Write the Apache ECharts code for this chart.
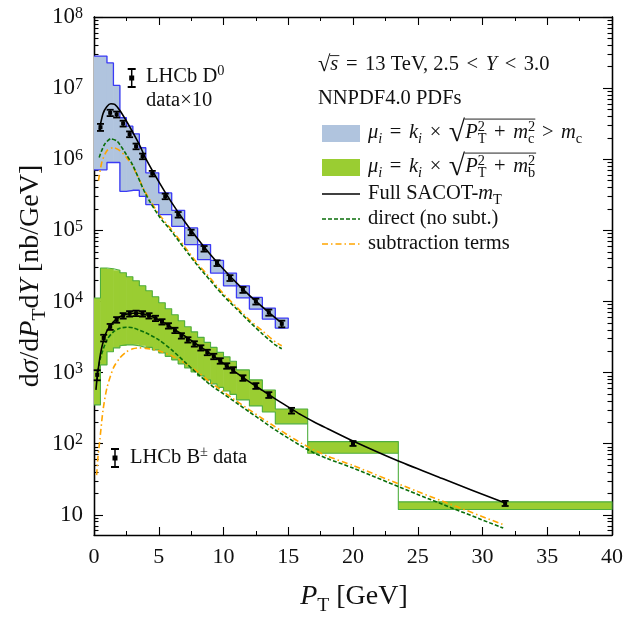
<!DOCTYPE html>
<html><head><meta charset="utf-8">
<script src="https://cdn.jsdelivr.net/npm/echarts@6/dist/echarts.min.js"></script>
<style>html,body{margin:0;padding:0;background:#fff}#c{width:623px;height:623px}</style>
</head><body><div id="c"></div>
<script>
// ---------------- DATA ----------------
// LHCb D0 data (x10)
const d0Pt  = [0.5,1.25,1.75,2.25,2.75,3.25,3.75,4.5,5.5,6.5,7.5,8.5,9.5,10.5,11.5,12.5,13.5,14.5];
const d0Val = [2.82e6,4.5e6,4.27e6,3.18e6,2.25e6,1.52e6,1.10e6,6.29e5,3.01e5,1.66e5,9.37e4,5.52e4,3.47e4,2.14e4,1.46e4,1.0e4,7.0e3,4.85e3];
const d0Err = [3.2e5,4.6e5,4.1e5,3.0e5,2.1e5,1.4e5,1.0e5,5.6e4,2.7e4,1.5e4,8.4e3,5.0e3,3.2e3,2.0e3,1.4e3,9.5e2,7.0e2,5.2e2];
// D0 scale band (step bins)
const d0Edges  = [0,1,1.5,2,2.5,3,3.5,4,5,6,7,8,9,10,11,12,13,14,15];
const d0BandHi = [2.82e7,2.26e7,1.09e7,3.83e6,2.92e6,2.28e6,1.45e6,6.43e5,3.36e5,1.91e5,1.08e5,6.30e4,3.78e4,2.51e4,1.66e4,1.14e4,8.07e3,5.83e3];
const d0BandLo = [7.1e5,9.0e5,9.0e5,3.54e5,3.54e5,3.66e5,3.01e5,2.30e5,1.66e5,1.14e5,6.30e4,3.87e4,2.51e4,1.66e4,1.12e4,7.82e3,5.65e3,4.22e3];
// D0 theory curves
const d0FullPt  = [0.4,0.7,1.0,1.3,1.6,2.0,2.5,3,3.5,4,5,6,7,8,9,10,11,12,13,14,14.5];
const d0FullVal = [2.54e6,4.4e6,5.52e6,6.03e6,5.89e6,4.85e6,3.45e6,2.38e6,1.61e6,1.02e6,4.85e5,2.45e5,1.33e5,7.64e4,4.55e4,2.84e4,1.83e4,1.22e4,8.41e3,5.89e3,5.01e3];
const d0DirPt   = [0.4,0.8,1.3,1.8,2.5,3,4,5,6,7,8,9,10,11,12,13,14,14.5];
const d0DirVal  = [1.06e6,1.6e6,1.94e6,1.78e6,1.16e6,8.2e5,3.2e5,1.6e5,9.6e4,5.5e4,3.2e4,1.95e4,1.2e4,7.9e3,5.2e3,3.5e3,2.45e3,2.16e3];
const d0SubPt   = [0.35,0.6,1.0,1.5,2.0,2.5,3,4,5,6,7,8,9,10,11,12,13,14,14.5];
const d0SubVal  = [5.0e5,9.0e5,1.32e6,1.46e6,1.32e6,1.06e6,7.9e5,3.35e5,1.7e5,1.02e5,5.9e4,3.4e4,2.1e4,1.28e4,8.4e3,5.5e3,3.86e3,2.7e3,2.38e3];

// LHCb B+- data
const bPt  = [0.25,0.75,1.25,1.75,2.25,2.75,3.25,3.75,4.25,4.75,5.25,5.75,6.25,6.75,7.25,7.75,8.25,8.75,9.25,9.75,10.25,10.75,11.5,12.5,13.5,15.25,20,31.75];
const bVal = [929,3069,4406,5522,6295,6714,6823,6714,6295,5796,5180,4550,3928,3289,2890,2536,2228,1924,1690,1462,1242,1091,841,650,485,292,101,14.5];
const bErr = [150,330,420,500,560,590,600,590,550,500,450,400,340,290,250,220,190,170,150,130,110,100,75,60,45,27,8,1.2];
// B scale band
const bEdges  = [0,0.5,1,1.5,2,2.5,3,3.5,4,4.5,5,5.5,6,6.5,7,7.5,8,8.5,9,9.5,10,10.5,11,12,13,14,16.5,23.5,40];
const bBandHi = [11170,29510,28900,27500,25350,22280,19580,16650,14160,11650,9590,7890,6500,5350,4400,3740,3130,2660,2260,1925,1665,1440,1090,789,570,308,107,15.2];
const bBandLo = [351,1283,1958,2228,2378,2455,2455,2378,2263,2088,1895,1690,1509,1326,1164,1022,899,789,693,619,552,493,413,340,279,190,73.3,11.9];
// B theory curves
const bFullPt  = [0.15,0.25,0.5,0.75,1,1.5,2,2.5,3,3.5,4,4.5,5,5.5,6,7,8,9,10,11,12,13,14,15.25,16,17,18,20,23.5,27,31.75];
const bFullVal = [570,869,1833,2888,3868,5180,6095,6607,6823,6823,6497,6095,5522,4929,4263,3289,2456,1833,1348,991,740,561,426,308,254,202,164,109,57,31.8,14.6];
const bDirPt   = [0.3,0.5,1,1.5,2,2.5,3,4,5,6,7,8,9,10,11,12,13,14,15,16,17,18,20,25,31.6];
const bDirVal  = [1023,1611,2890,3742,4197,4335,4266,3622,2890,2089,1416,959,671,501,374,279,209,156,120,92.9,74.0,61.9,45.5,19.3,6.5];
const bSubPt   = [0.2,0.3,0.45,0.7,1,1.5,2,2.5,3,3.5,4,5,6,7,8,9,10,11,12,13,14,15,16,17,18,20,25,31.6];
const bSubVal  = [36.2,63,113,299,610,1164,1611,1958,2158,2228,2192,2023,1718,1370,1023,727,535,399,299,226,172,131,102,81.5,67.1,49.3,21.2,7.28];

// axis ticks
const xMin = 0, xMax = 40, xStep = 5;
const yMin = 5.2, yMax = 1e8;
const yMajor = [10,1e2,1e3,1e4,1e5,1e6,1e7,1e8];
const yMinor = [6,7,8,9];
for (let e = 1; e < 8; e++) for (let k = 2; k <= 9; k++) yMinor.push(k * Math.pow(10, e));

// ---------------- HELPERS ----------------
const FONT = '"Liberation Serif", "Times New Roman", serif';
const cv = document.createElement('canvas').getContext('2d');
function tw(t, s, it) { cv.font = (it ? 'italic ' : '') + s + 'px ' + FONT; return cv.measureText(t).width; }
function mathEls(x0, yb, size, parts, color) {
  color = color || '#111';
  const els = []; let cx = x0, ovX = null;
  for (const p of parts) {
    const t = p[0], o = p[1] || {};
    let s = size * (o.scale || 1), dy = (o.dy || 0) * size;
    if (o.sub) { s = size * 0.7; dy += size * 0.22; }
    if (o.sup) { s = size * 0.7; dy -= size * 0.40; }
    if (o.sp) cx += o.sp * size;
    const w = tw(t, s, o.i);
    if (o.ov) ovX = cx;
    els.push({ type: 'text', x: cx, y: yb + dy - 0.34 * s, silent: true,
      style: { text: t, font: (o.i ? 'italic ' : '') + s + 'px ' + FONT, fill: color,
        align: 'left', verticalAlign: 'middle', textAlign: 'left', textVerticalAlign: 'middle' } });
    if (!o.nb) cx += w;
    if (o.sa) cx += o.sa * size;
    if (o.ove) {
      const yy = yb - (o.ovH || 0.8) * size;
      els.push({ type: 'line', silent: true, shape: { x1: ovX - 0.5, y1: yy, x2: cx + 1, y2: yy },
        style: { stroke: color, lineWidth: Math.max(0.8, size * 0.045) } });
    }
  }
  return { els: els, width: cx - x0 };
}
function pairs(xs, ys) { return xs.map((x, i) => [x, ys[i]]); }
function bins(edges, lo, hi) { return lo.map((v, i) => [edges[i], edges[i + 1], lo[i], hi[i]]); }
function outline(edges, lo, hi) {
  const pts = []; const n = lo.length;
  for (let i = 0; i < n; i++) { pts.push([edges[i], hi[i]]); pts.push([edges[i + 1], hi[i]]); }
  for (let i = n - 1; i >= 0; i--) { pts.push([edges[i + 1], lo[i]]); pts.push([edges[i], lo[i]]); }
  return pts;
}
function errData(xs, ys, es) { return xs.map((x, i) => [x, ys[i], es[i]]); }
function markerEls(x, y, half) {
  return [
    { type: 'line', silent: true, shape: { x1: x, y1: y - half, x2: x, y2: y + half }, style: { stroke: '#000', lineWidth: 1.5 } },
    { type: 'line', silent: true, shape: { x1: x - 4, y1: y - half, x2: x + 4, y2: y - half }, style: { stroke: '#000', lineWidth: 2 } },
    { type: 'line', silent: true, shape: { x1: x - 4, y1: y + half, x2: x + 4, y2: y + half }, style: { stroke: '#000', lineWidth: 2 } },
    { type: 'rect', silent: true, shape: { x: x - 2.5, y: y - 2.5, width: 5, height: 5 }, style: { fill: '#000' } }
  ];
}

// ---------------- SERIES BUILDERS ----------------
function bandFill(edges, lo, hi, color) {
  return { type: 'custom', xAxisIndex: 0, yAxisIndex: 0, z: 1, silent: true, clip: true,
    data: bins(edges, lo, hi), encode: { x: [0, 1], y: [2, 3] },
    renderItem: function (params, api) {
      const p0 = api.coord([api.value(0), api.value(3)]);
      const p1 = api.coord([api.value(1), api.value(2)]);
      return { type: 'rect', shape: { x: p0[0] - 0.3, y: p0[1], width: p1[0] - p0[0] + 0.6, height: p1[1] - p0[1] },
        style: { fill: color } };
    } };
}
function bandLine(edges, lo, hi, color, w) {
  return { type: 'line', z: 2, silent: true, symbol: 'none', data: outline(edges, lo, hi),
    lineStyle: { color: color, width: w }, animation: false };
}
function curve(xs, ys, color, type, w) {
  return { type: 'line', z: 3, silent: true, symbol: 'none', smooth: 0.25,
    data: pairs(xs, ys), lineStyle: { color: color, width: w, type: type }, animation: false };
}
function errSeries(xs, ys, es) {
  return { type: 'custom', z: 4, silent: true, data: errData(xs, ys, es), encode: { x: 0, y: 1 },
    renderItem: function (params, api) {
      const x = api.value(0), v = api.value(1), e = api.value(2);
      const pt = api.coord([x, v + e]), pb = api.coord([x, v - e]), pc = api.coord([x, v]);
      const cw = 3.5;
      return { type: 'group', children: [
        { type: 'line', shape: { x1: pt[0], y1: pt[1], x2: pb[0], y2: pb[1] }, style: { stroke: '#000', lineWidth: 1.4 } },
        { type: 'line', shape: { x1: pt[0] - cw, y1: pt[1], x2: pt[0] + cw, y2: pt[1] }, style: { stroke: '#000', lineWidth: 1.8 } },
        { type: 'line', shape: { x1: pb[0] - cw, y1: pb[1], x2: pb[0] + cw, y2: pb[1] }, style: { stroke: '#000', lineWidth: 1.8 } },
        { type: 'rect', shape: { x: pc[0] - 2, y: pc[1] - 2, width: 4, height: 4 }, style: { fill: '#000' } }
      ] };
    } };
}

// ---------------- AXES ----------------
const axLine = { show: true, onZero: false, lineStyle: { color: '#000', width: 1.3 } };
function xAx(pos, labels) {
  return { type: 'value', min: xMin, max: xMax, interval: xStep, position: pos,
    axisLine: axLine, splitLine: { show: false },
    axisTick: { show: true, inside: true, length: 8, lineStyle: { color: '#000', width: 1.1 } },
    minorTick: { show: true, splitNumber: 2, length: 4, lineStyle: { color: '#000', width: 1 } },
    axisLabel: labels ? { show: true, color: '#111', fontFamily: FONT, fontSize: 22, margin: 11 } : { show: false } };
}
function yAx(pos, ticks, len, labels) {
  return { type: 'log', logBase: 10, min: yMin, max: yMax, position: pos,
    axisLine: axLine, splitLine: { show: false }, minorTick: { show: false },
    axisTick: { show: true, inside: true, length: len, customValues: ticks, lineStyle: { color: '#000', width: 1.1 } },
    axisLabel: labels ? { show: true, customValues: yMajor, margin: 11, color: '#111',
      formatter: function (v) { const e = Math.round(Math.log10(v)); return e === 1 ? '{b|10}' : '{b|10}{s|' + e + '}'; },
      rich: { b: { fontFamily: FONT, fontSize: 23, lineHeight: 23, color: '#111' },
              s: { fontFamily: FONT, fontSize: 16, lineHeight: 14, verticalAlign: 'top', color: '#111' } } } : { show: false } };
}

// ---------------- TEXT / LEGEND GRAPHICS ----------------
const G = [];
const FS = 20.5;
function addMath(x, yb, size, parts) { const r = mathEls(x, yb, size, parts); r.els.forEach(e => G.push(e)); return r; }
const OP = { sp: 0.12, sa: 0.12 };
function op(t) { return [t, OP]; }
addMath(318, 72, FS, [['√', { scale: 1.1, dy: 0.05 }], ['s', { i: 1, ov: 1, ove: 1, ovH: 0.8 }], op(' = '), ['13 TeV, 2.5', {}], op(' < '), ['Y', { i: 1 }], op(' < '), ['3.0', {}]]);
addMath(318, 106, FS, [['NNPDF4.0 PDFs', {}]]);
G.push({ type: 'rect', silent: true, shape: { x: 322, y: 125, width: 38, height: 17 }, style: { fill: '#b0c4de' } });
G.push({ type: 'rect', silent: true, shape: { x: 322, y: 159, width: 38, height: 17 }, style: { fill: '#9acd32' } });
G.push({ type: 'line', silent: true, shape: { x1: 322, y1: 194, x2: 360, y2: 194 }, style: { stroke: '#000', lineWidth: 1.6 } });
G.push({ type: 'line', silent: true, shape: { x1: 322, y1: 219, x2: 360, y2: 219 }, style: { stroke: '#0a6e0a', lineWidth: 1.6, lineDash: [4, 2] } });
G.push({ type: 'line', silent: true, shape: { x1: 322, y1: 244, x2: 360, y2: 244 }, style: { stroke: '#ffa500', lineWidth: 1.6, lineDash: [6, 3, 1.5, 3] } });
const muPre = [['μ', { i: 1 }], ['i', { i: 1, sub: 1 }], op(' = '), ['k', { i: 1 }], ['i', { i: 1, sub: 1 }], op(' × '), ['√', { scale: 1.45, dy: 0.14 }]];
addMath(368, 140, FS, muPre.concat([['P', { i: 1, ov: 1 }], ['2', { sup: 1, nb: 1 }], ['T', { sub: 1 }], op(' + '), ['m', { i: 1 }], ['2', { sup: 1, nb: 1 }], ['c', { sub: 1, ove: 1, ovH: 1.02 }], op(' > '), ['m', { i: 1 }], ['c', { sub: 1 }]]));
addMath(368, 174, FS, muPre.concat([['P', { i: 1, ov: 1 }], ['2', { sup: 1, nb: 1 }], ['T', { sub: 1 }], op(' + '), ['m', { i: 1 }], ['2', { sup: 1, nb: 1 }], ['b', { sub: 1, ove: 1, ovH: 1.02 }]]));
addMath(368, 201, FS, [['Full SACOT-', {}], ['m', { i: 1 }], ['T', { sub: 1 }]]);
addMath(368, 226, FS, [['direct (no subt.)', {}]]);
addMath(368, 251, FS, [['subtraction terms', {}]]);
// data legends
markerEls(131.7, 78, 9).forEach(e => G.push(e));
addMath(146, 84, FS, [['LHCb D', {}], ['0', { sup: 1 }]]);
addMath(146, 108, FS, [['data×10', {}]]);
markerEls(115, 458, 9).forEach(e => G.push(e));
addMath(130, 465, FS, [['LHCb B', {}], ['±', { sup: 1 }], [' data', {}]]);
// axis titles
(function () {
  const xt = mathEls(0, 0, 28, [['P', { i: 1 }], ['T', { sub: 1 }], [' [GeV]', {}]]);
  G.push({ type: 'group', x: 354 - xt.width / 2, y: 606, children: xt.els });
  const yt = mathEls(0, 0, 28, [['d', {}], ['σ', { i: 1 }], ['/d', {}], ['P', { i: 1 }], ['T', { sub: 1 }], ['d', {}], ['Y', { i: 1 }], [' [nb/GeV]', {}]]);
  G.push({ type: 'group', x: 40, y: 276 + yt.width / 2, rotation: Math.PI / 2, children: yt.els });
})();

// ---------------- CHART ----------------
const chart = echarts.init(document.getElementById('c'), null, { renderer: 'canvas' });
chart.setOption({
  animation: false,
  backgroundColor: '#fff',
  grid: { left: 94, right: 11, top: 17, bottom: 88, containLabel: false, outerBoundsMode: 'none' },
  xAxis: [xAx('bottom', true), xAx('top', false)],
  yAxis: [yAx('left', yMajor, 9, true), yAx('left', yMinor, 4.5, false), yAx('right', yMajor, 9, false), yAx('right', yMinor, 4.5, false)],
  series: [
    bandFill(d0Edges, d0BandLo, d0BandHi, '#b0c4de'),
    bandLine(d0Edges, d0BandLo, d0BandHi, '#3a3af5', 1.3),
    bandFill(bEdges, bBandLo, bBandHi, '#9acd32'),
    bandLine(bEdges, bBandLo, bBandHi, '#4fae3f', 1.1),
    curve(d0SubPt, d0SubVal, '#ffa500', [6, 3, 1.5, 3], 1.6),
    curve(d0DirPt, d0DirVal, '#0a6e0a', [4, 2], 1.6),
    curve(d0FullPt, d0FullVal, '#000', 'solid', 1.6),
    curve(bSubPt, bSubVal, '#ffa500', [6, 3, 1.5, 3], 1.6),
    curve(bDirPt, bDirVal, '#0a6e0a', [4, 2], 1.6),
    curve(bFullPt, bFullVal, '#000', 'solid', 1.6),
    errSeries(d0Pt, d0Val, d0Err),
    errSeries(bPt, bVal, bErr)
  ],
  graphic: { elements: G }
});
</script></body></html>
